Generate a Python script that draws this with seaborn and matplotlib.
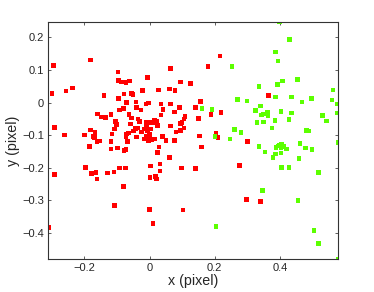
import numpy as np
import pandas as pd
import matplotlib
matplotlib.use("Agg")
import matplotlib.pyplot as plt
import seaborn as sns

# ---- data ----
red_x = [-0.295, -0.182, -0.299, -0.256, -0.236, -0.292, -0.261, -0.200, -0.181, -0.185,
         -0.168, -0.173, -0.169, -0.161, -0.154, -0.159, -0.147, -0.135, -0.140, -0.118,
         -0.119, -0.115, -0.108, -0.102, -0.104, -0.097, -0.096, -0.086, -0.072, -0.061,
         -0.096, -0.092, -0.081, -0.079, -0.070, -0.063, -0.055, -0.051, -0.055, -0.067,
         -0.072, -0.070, -0.065, -0.059, -0.049, -0.044, -0.037, -0.040, -0.042, -0.041,
         -0.036, -0.031, -0.024, -0.026, -0.022, -0.007, -0.011, -0.003, -0.009, 0.000,
         -0.015, -0.009, -0.006, -0.016, -0.010, -0.004, 0.010, 0.015, 0.022, 0.027,
         0.041, 0.035, 0.061, 0.078, 0.065, 0.035, 0.065, 0.092, 0.077, 0.065,
         0.094, 0.125, 0.179, 0.216, 0.108, 0.105, 0.099, 0.095, 0.106, 0.095,
         0.081, 0.140, 0.156, 0.150, 0.188, 0.219, 0.154, 0.204, 0.210, 0.160,
         0.301, 0.364, 0.025, 0.003, 0.000, 0.016, 0.005, -0.004, 0.040, 0.050,
         0.077, 0.029, 0.025, 0.061, 0.003, 0.032, 0.032, 0.098, 0.141, 0.001,
         0.019, 0.022, 0.000, 0.010, 0.102, 0.276, 0.298, 0.341, -0.311, -0.291,
         -0.196, -0.179, -0.165, -0.162, -0.130, -0.109, -0.092, -0.074, -0.081, -0.107,
         -0.119, -0.098, -0.078, -0.072]
red_y = [0.113, 0.131, 0.028, 0.035, 0.045, -0.076, -0.100, -0.100, -0.084, -0.134,
         -0.091, -0.104, -0.107, -0.119, -0.118, -0.035, -0.044, -0.045, 0.021, -0.036,
         -0.120, -0.097, -0.081, -0.068, -0.059, 0.094, 0.067, 0.063, 0.062, 0.066,
         0.013, -0.023, -0.018, 0.026, 0.001, -0.037, 0.028, 0.025, -0.048, -0.119,
         -0.106, -0.097, -0.093, -0.066, -0.087, -0.080, -0.078, -0.106, 0.002, -0.015,
         -0.050, -0.059, -0.090, -0.023, 0.036, 0.076, -0.005, -0.001, -0.062, -0.062,
         -0.081, -0.077, -0.085, -0.112, -0.105, -0.108, -0.061, -0.056, -0.058, 0.039,
         -0.022, -0.038, 0.041, 0.036, 0.104, -0.004, -0.005, -0.015, -0.029, -0.072,
         0.063, 0.058, 0.110, 0.143, -0.042, -0.050, -0.062, -0.065, -0.078, -0.085,
         -0.090, -0.016, 0.004, -0.049, -0.037, -0.031, -0.103, -0.093, -0.108, -0.137,
         -0.119, 0.021, -0.071, -0.081, -0.098, -0.112, -0.114, -0.118, -0.105, -0.117,
         -0.117, -0.137, -0.154, -0.169, -0.195, -0.188, -0.210, -0.201, -0.202, -0.230,
         -0.227, -0.235, -0.329, -0.372, -0.330, -0.194, -0.298, -0.304, -0.384, -0.221,
         -0.199, -0.218, -0.214, -0.234, -0.216, -0.213, -0.201, -0.201, -0.257, -0.316,
         -0.142, -0.140, -0.147, -0.145]

green_x = [0.398, 0.429, 0.387, 0.394, 0.253, 0.453, 0.408, 0.392, 0.336, 0.563,
           0.269, 0.299, 0.387, 0.435, 0.496, 0.468, 0.560, 0.575, 0.161, 0.191,
           0.340, 0.324, 0.361, 0.349, 0.343, 0.363, 0.403, 0.435, 0.531, 0.576,
           0.428, 0.385, 0.542, 0.330, 0.349, 0.375, 0.260, 0.281, 0.481, 0.488,
           0.201, 0.247, 0.462, 0.579, 0.336, 0.388, 0.398, 0.404, 0.412, 0.420,
           0.478, 0.498, 0.354, 0.386, 0.378, 0.403, 0.458, 0.404, 0.428, 0.518,
           0.347, 0.455, 0.204, 0.504, 0.519, 0.579, 0.403, 0.395]
green_y = [0.248, 0.193, 0.155, 0.128, 0.110, 0.070, 0.066, 0.056, 0.049, 0.039,
           0.010, 0.005, 0.017, 0.017, 0.013, 0.002, 0.008, -0.005, -0.018, -0.022,
           -0.011, -0.025, -0.029, -0.035, -0.038, -0.041, -0.028, -0.032, -0.039, -0.032,
           -0.052, -0.055, -0.057, -0.062, -0.060, -0.078, -0.083, -0.092, -0.086, -0.087,
           -0.105, -0.112, -0.126, -0.123, -0.135, -0.138, -0.132, -0.127, -0.135, -0.142,
           -0.139, -0.144, -0.152, -0.158, -0.169, -0.155, -0.172, -0.199, -0.199, -0.214,
           -0.270, -0.300, -0.381, -0.392, -0.432, -0.480, -0.140, -0.133]

x_ticks = [-0.2, 0, 0.2, 0.4]
x_tick_labels = ["\u22120.2", "0", "0.2", "0.4"]
y_ticks = [0.2, 0.1, 0, -0.1, -0.2, -0.3, -0.4]
y_tick_labels = ["0.2", "0.1", "0", "\u22120.1", "\u22120.2", "\u22120.3", "\u22120.4"]
x_label = "x (pixel)"
y_label = "y (pixel)"

df = pd.DataFrame({
    "x": red_x + green_x,
    "y": red_y + green_y,
    "cls": ["red"] * len(red_x) + ["green"] * len(green_x),
})

sns.set_style("ticks")
plt.rcParams["font.family"] = ["Liberation Sans", "DejaVu Sans"]

fig = plt.figure(figsize=(3.74, 2.92), dpi=100)
ax = fig.add_axes([0.129, 0.113, 0.7756, 0.8127])

sns.scatterplot(data=df, x="x", y="y", hue="cls",
                palette={"red": "#ff0000", "green": "#5cff00"},
                marker="s", s=11, linewidth=0, legend=False, ax=ax)

ax.set_xlim(min(df["x"]), max(df["x"]))
ax.set_ylim(min(df["y"]), max(df["y"]))
ax.set_xticks(x_ticks)
ax.set_xticklabels(x_tick_labels)
ax.set_yticks(y_ticks)
ax.set_yticklabels(y_tick_labels)
ax.tick_params(direction="in", length=2.5, width=0.6, labelsize=8,
               top=True, right=True, color="#444444", pad=3)
for sp in ax.spines.values():
    sp.set_visible(True)
    sp.set_color("#333333")
    sp.set_linewidth(0.8)
ax.set_xlabel(x_label, fontsize=10.3, labelpad=0.5)
ax.set_ylabel(y_label, fontsize=10.3, labelpad=1.5)

fig.savefig("out.png", dpi=100)
